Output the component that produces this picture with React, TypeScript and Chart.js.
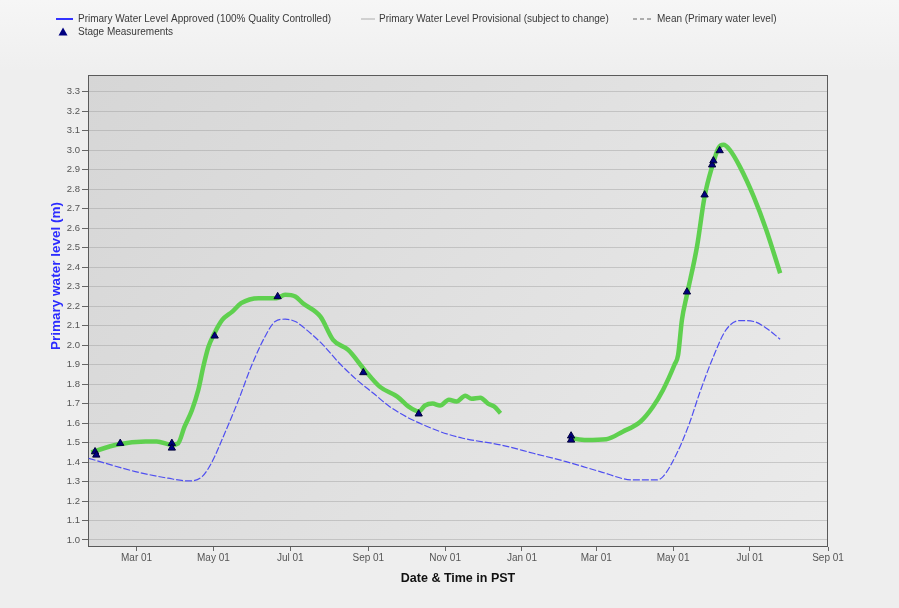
import { useEffect, useRef } from "react";
import { Chart, registerables } from "chart.js";

Chart.register(...registerables);

// ---- Data ----
const provisionalDates = [
  "2021-01-24", "2021-02-14", "2021-03-08", "2021-03-17", "2021-03-29", "2021-04-03",
  "2021-04-08", "2021-04-14", "2021-04-19", "2021-04-23", "2021-04-27", "2021-05-01",
  "2021-05-08", "2021-05-16", "2021-05-23", "2021-06-06", "2021-06-20", "2021-06-27",
  "2021-07-05", "2021-07-11", "2021-07-25", "2021-08-04", "2021-08-16", "2021-08-29",
  "2021-09-10", "2021-09-24", "2021-10-04", "2021-10-11", "2021-10-16", "2021-10-22",
  "2021-10-28", "2021-11-04", "2021-11-10", "2021-11-17", "2021-11-22", "2021-11-29",
  "2021-12-05", "2021-12-10", "2021-12-15",
  "2022-01-15",
  "2022-02-09", "2022-02-21", "2022-03-09", "2022-03-22", "2022-04-05", "2022-04-15",
  "2022-04-23", "2022-05-02", "2022-05-05", "2022-05-08", "2022-05-12", "2022-05-20",
  "2022-05-26", "2022-06-01", "2022-06-06", "2022-06-10", "2022-06-15", "2022-06-23",
  "2022-07-04", "2022-07-14", "2022-07-25",
];
const provisionalLevels: (number | null)[] = [
  1.45, 1.49, 1.505, 1.505, 1.488, 1.496,
  1.58, 1.667, 1.77, 1.89, 1.99, 2.05,
  2.129, 2.172, 2.215, 2.241, 2.241, 2.258,
  2.249, 2.215, 2.146, 2.027, 1.975, 1.873,
  1.787, 1.736, 1.68, 1.66, 1.69, 1.70,
  1.69, 1.72, 1.71, 1.74, 1.725, 1.73,
  1.70, 1.685, 1.65,
  null,
  1.522, 1.513, 1.517, 1.556, 1.607, 1.684,
  1.77, 1.898, 1.95, 2.129, 2.258, 2.506,
  2.762, 2.916, 3.011, 3.028, 3.002, 2.916,
  2.762, 2.591, 2.369,
];

const meanDates = [
  "2021-01-22", "2021-02-28", "2021-03-26", "2021-04-11", "2021-04-22", "2021-04-30",
  "2021-05-10", "2021-05-21", "2021-05-31", "2021-06-11", "2021-06-19", "2021-06-27",
  "2021-07-05", "2021-07-14", "2021-07-27", "2021-08-09", "2021-08-23", "2021-09-05",
  "2021-09-18", "2021-10-01", "2021-10-15", "2021-10-28", "2021-11-15", "2021-12-15",
  "2022-01-10", "2022-02-05", "2022-03-04", "2022-03-30", "2022-04-18", "2022-04-23",
  "2022-05-04", "2022-05-14", "2022-05-22", "2022-06-02", "2022-06-12", "2022-06-23",
  "2022-07-04", "2022-07-14", "2022-07-25",
];
const meanLevels = [
  1.419, 1.351, 1.317, 1.303, 1.325, 1.402,
  1.548, 1.719, 1.89, 2.044, 2.121, 2.133,
  2.121, 2.078, 2.001, 1.907, 1.821, 1.753,
  1.684, 1.633, 1.59, 1.556, 1.522, 1.488,
  1.445, 1.402, 1.351, 1.308, 1.308, 1.325,
  1.445, 1.599, 1.753, 1.941, 2.078, 2.126,
  2.121, 2.087, 2.03,
];

const stageDates = [
  "2021-01-27", "2021-01-28", "2021-02-16", "2021-03-29", "2021-03-29", "2021-05-02",
  "2021-06-21", "2021-08-28", "2021-10-11", "2022-02-09", "2022-02-09", "2022-05-12",
  "2022-05-26", "2022-06-01", "2022-06-02", "2022-06-07",
];
const stageLevels = [
  1.453, 1.436, 1.496, 1.496, 1.472, 2.047,
  2.249, 1.859, 1.647, 1.534, 1.513, 2.273,
  2.771, 2.925, 2.946, 2.998,
];

const xTickDates = [
  "2021-03-01", "2021-05-01", "2021-07-01", "2021-09-01", "2021-11-01",
  "2022-01-01", "2022-03-01", "2022-05-01", "2022-07-01", "2022-09-01",
];
const xTickLabels = [
  "Mar 01", "May 01", "Jul 01", "Sep 01", "Nov 01",
  "Jan 01", "Mar 01", "May 01", "Jul 01", "Sep 01",
];
const yTicks = [
  1.0, 1.1, 1.2, 1.3, 1.4, 1.5, 1.6, 1.7, 1.8, 1.9, 2.0, 2.1,
  2.2, 2.3, 2.4, 2.5, 2.6, 2.7, 2.8, 2.9, 3.0, 3.1, 3.2, 3.3,
];
const xRangeStart = "2021-01-21T10:00:00Z";
const xRangeEnd = "2022-09-01T00:00:00Z";
const yRangeMin = 0.964;
const yRangeMax = 3.386;

const legendLabels = {
  approved: "Primary Water Level Approved (100% Quality Controlled)",
  provisional: "Primary Water Level Provisional (subject to change)",
  mean: "Mean (Primary water level)",
  stage: "Stage Measurements",
};
const yTitle = "Primary water level (m)";
const xTitle = "Date & Time in PST";

const toMs = (d: string) => Date.parse(d.length === 10 ? d + "T00:00:00Z" : d);
const pts = (dates: string[], vals: (number | null)[]) =>
  dates.map((d, i) => ({ x: toMs(d), y: vals[i] }));

const FONT = "'Liberation Sans', Arial, sans-serif";

const decorPlugin = {
  id: "decor",
  beforeDraw(chart: any) {
    const { ctx, width, height, chartArea: a } = chart;
    ctx.save();
    ctx.fillStyle = "#eeeeee";
    ctx.fillRect(0, 0, width, height);
    const tg = ctx.createLinearGradient(0, 0, 0, 70);
    tg.addColorStop(0, "#f6f6f6");
    tg.addColorStop(1, "#efefef");
    ctx.fillStyle = tg;
    ctx.fillRect(0, 0, width, 70);
    const g = ctx.createLinearGradient(a.left, a.top, a.right, a.bottom);
    g.addColorStop(0, "#d6d6d6");
    g.addColorStop(1, "#ebebeb");
    ctx.fillStyle = g;
    ctx.fillRect(a.left, a.top, a.right - a.left, a.bottom - a.top);
    ctx.restore();
  },
  beforeDatasetsDraw(chart: any) {
    const { ctx, chartArea: a } = chart;
    ctx.save();
    ctx.strokeStyle = "#5a5a5a";
    ctx.lineWidth = 1;
    ctx.strokeRect(Math.round(a.left) + 0.5, Math.round(a.top) + 0.5,
      Math.round(a.right - a.left) - 1, Math.round(a.bottom - a.top) - 1);
    ctx.restore();
  },
  afterDraw(chart: any) {
    const { ctx } = chart;
    ctx.save();
    // legend
    ctx.font = `10px ${FONT}`;
    ctx.fillStyle = "#3a3a3a";
    ctx.textBaseline = "middle";
    ctx.textAlign = "left";
    const r1 = 19, r2 = 32;
    // approved
    ctx.strokeStyle = "#3333ff";
    ctx.lineWidth = 2;
    ctx.beginPath(); ctx.moveTo(56, r1); ctx.lineTo(73, r1); ctx.stroke();
    ctx.fillText(legendLabels.approved, 78, r1);
    // provisional
    ctx.strokeStyle = "#c4c4c4";
    ctx.lineWidth = 1.5;
    ctx.beginPath(); ctx.moveTo(361, r1); ctx.lineTo(375, r1); ctx.stroke();
    ctx.fillText(legendLabels.provisional, 379, r1);
    // mean
    ctx.strokeStyle = "#666";
    ctx.lineWidth = 1;
    ctx.setLineDash([4, 3]);
    ctx.beginPath(); ctx.moveTo(633, r1); ctx.lineTo(652, r1); ctx.stroke();
    ctx.setLineDash([]);
    ctx.fillText(legendLabels.mean, 657, r1);
    // stage
    ctx.fillStyle = "#000080";
    ctx.beginPath();
    ctx.moveTo(63, r2 - 4.5); ctx.lineTo(67.5, r2 + 3.5); ctx.lineTo(58.5, r2 + 3.5);
    ctx.closePath(); ctx.fill();
    ctx.fillStyle = "#3a3a3a";
    ctx.fillText(legendLabels.stage, 78, r2);
    // y title
    ctx.translate(56, 276);
    ctx.rotate(-Math.PI / 2);
    ctx.textAlign = "center";
    ctx.font = `bold 13.5px ${FONT}`;
    ctx.fillStyle = "#2b2bff";
    ctx.fillText(yTitle, 0, 0);
    ctx.restore();
  },
};

export default function App() {
  const ref = useRef<HTMLCanvasElement | null>(null);
  useEffect(() => {
    if (!ref.current) return;
    const chart = new Chart(ref.current, {
      type: "line",
      data: {
        datasets: [
          {
            label: legendLabels.stage,
            data: pts(stageDates, stageLevels),
            showLine: false,
            pointStyle: "triangle",
            pointRadius: 4.2,
            pointBackgroundColor: "#000080",
            pointBorderColor: "#00003a",
            pointBorderWidth: 1,
            order: 0,
          },
          {
            label: legendLabels.provisional,
            data: pts(provisionalDates, provisionalLevels),
            borderColor: "#5fd04f",
            borderWidth: 4.5,
            pointRadius: 0,
            cubicInterpolationMode: "monotone",
            spanGaps: false,
            order: 1,
          },
          {
            label: legendLabels.mean,
            data: pts(meanDates, meanLevels),
            borderColor: "#4f4ff0",
            borderWidth: 1.2,
            borderDash: [7, 2],
            pointRadius: 0,
            cubicInterpolationMode: "monotone",
            order: 2,
          },
          {
            label: legendLabels.approved,
            data: [],
            borderColor: "#3333ff",
            borderWidth: 2,
            pointRadius: 0,
            order: 3,
          },
        ],
      },
      options: {
        animation: false,
        responsive: true,
        maintainAspectRatio: false,
        layout: { padding: { left: 0, right: 71, top: 75, bottom: 0 } },
        plugins: {
          legend: { display: false },
          tooltip: { enabled: false },
        },
        scales: {
          x: {
            type: "linear",
            min: toMs(xRangeStart),
            max: toMs(xRangeEnd),
            offset: false,
            afterBuildTicks: (scale: any) => {
              scale.ticks = xTickDates.map((d) => ({ value: toMs(d) }));
            },
            afterFit: (scale: any) => {
              scale.height = 61;
            },
            ticks: {
              autoSkip: false,
              maxRotation: 0,
              padding: 1,
              color: "#555",
              font: { family: FONT, size: 10 },
              callback: (_v: any, i: number) => xTickLabels[i],
            },
            grid: {
              drawOnChartArea: false,
              drawTicks: true,
              tickLength: 4,
              tickColor: "#666",
            },
            border: { display: false },
            title: {
              display: true,
              text: xTitle,
              color: "#111",
              font: { family: FONT, size: 12.5, weight: "bold" },
              padding: { top: 0, bottom: 22 },
            },
          },
          y: {
            type: "linear",
            min: yRangeMin,
            max: yRangeMax,
            afterBuildTicks: (scale: any) => {
              scale.ticks = yTicks.map((v) => ({ value: v }));
            },
            afterFit: (scale: any) => {
              scale.width = 88;
            },
            ticks: {
              padding: 2,
              color: "#555",
              font: { family: FONT, size: 9.5 },
              callback: (v: any) => Number(v).toFixed(1),
            },
            grid: {
              color: "rgba(150,150,150,0.4)",
              lineWidth: 1,
              drawTicks: true,
              tickLength: 6,
              tickColor: "#666",
            },
            border: { display: false },
          },
        },
      },
      plugins: [decorPlugin],
    } as any);
    return () => chart.destroy();
  }, []);

  return (
    <div style={{ position: "fixed", left: 0, top: 0, width: 899, height: 608 }}>
      <canvas ref={ref} />
    </div>
  );
}
